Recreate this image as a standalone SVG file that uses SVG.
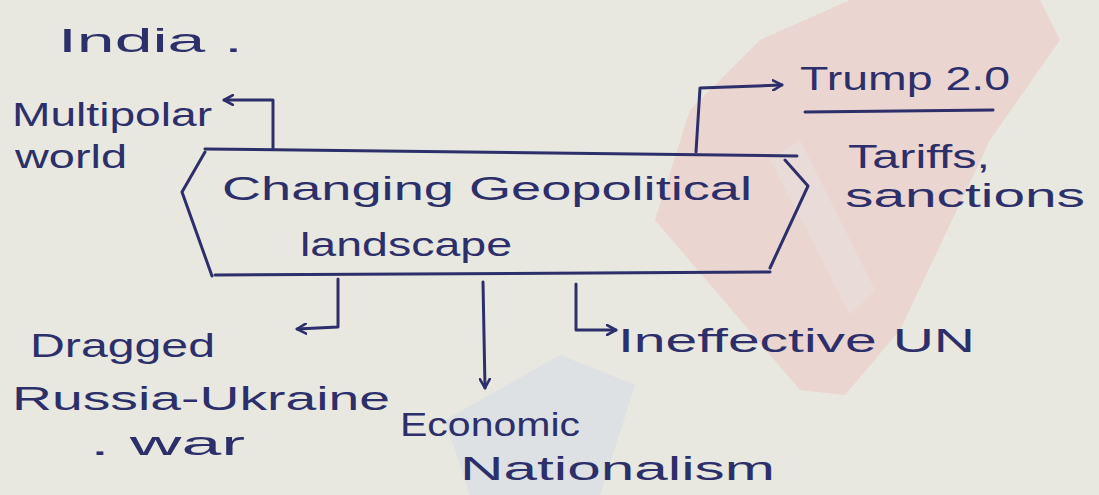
<svg xmlns="http://www.w3.org/2000/svg" width="1099" height="495" viewBox="0 0 1099 495">
  <defs>
    <style>
      .ink { fill: none; stroke: #2c2f6a; stroke-width: 3; stroke-linecap: round; stroke-linejoin: round; }
      .t { fill: #2c2f6a; font-family: "Liberation Sans", "DejaVu Sans", sans-serif; font-size: 34px; }
    </style>
    <marker id="ah" viewBox="0 0 12 12" refX="10" refY="6" markerWidth="12" markerHeight="12" markerUnits="userSpaceOnUse" orient="auto">
      <path d="M1,1 L10,6 L1,11" fill="none" stroke="#2c2f6a" stroke-width="2.6" stroke-linecap="round" stroke-linejoin="round"/>
    </marker>
  </defs>

  <!-- paper and watermark -->
  <rect x="0" y="0" width="1099" height="495" fill="#e8e8e1"/>
  <g id="watermark">
    <path d="M690,110 L760,40 L850,0 L1040,0 L1060,40 L990,140 L900,330 L845,395 L800,390 L655,220 Z" fill="#ebcfcd" opacity="0.8"/>
    <path d="M770,160 L800,140 L875,290 L850,315 Z" fill="#e9dcda" opacity="0.8"/>
    <path d="M445,420 L560,355 L635,385 L600,495 L470,495 Z" fill="#d8dee6" opacity="0.7"/>
  </g>

  <g id="connectors">
    <path class="ink" d="M273,148 L273,100 L224,100" marker-end="url(#ah)"/>
    <path class="ink" d="M696,152 L700,88 L782,85" marker-end="url(#ah)"/>
    <path class="ink" d="M338,279 L338,327 L297,329" marker-end="url(#ah)"/>
    <path class="ink" d="M483,282 L485,388" marker-end="url(#ah)"/>
    <path class="ink" d="M576,284 L576,330 L616,330" marker-end="url(#ah)"/>
  </g>

  <g id="node-center">
    <path class="ink" d="M205,149 L797,156"/>
    <path class="ink" d="M205,152 L182,192 L212,276"/>
    <path class="ink" d="M215,275 L770,272"/>
    <path class="ink" d="M785,160 L808,186 L770,268"/>
    <text class="t" x="222" y="200" font-size="40" textLength="530" lengthAdjust="spacingAndGlyphs">Changing Geopolitical</text>
    <text class="t" x="300" y="256" font-size="38" textLength="212" lengthAdjust="spacingAndGlyphs">landscape</text>
  </g>

  <g id="node-india">
    <text class="t" x="58" y="52" font-size="36" textLength="185" lengthAdjust="spacingAndGlyphs">India .</text>
  </g>

  <g id="node-multipolar">
    <text class="t" x="12" y="126" textLength="200" lengthAdjust="spacingAndGlyphs">Multipolar</text>
    <text class="t" x="15" y="168" textLength="112" lengthAdjust="spacingAndGlyphs">world</text>
  </g>

  <g id="node-trump">
    <text class="t" x="800" y="90" textLength="210" lengthAdjust="spacingAndGlyphs">Trump 2.0</text>
    <path class="ink" d="M805,112 L993,110"/>
    <text class="t" x="848" y="168" font-size="32" textLength="142" lengthAdjust="spacingAndGlyphs">Tariffs,</text>
    <text class="t" x="845" y="207" font-size="32" textLength="240" lengthAdjust="spacingAndGlyphs">sanctions</text>
  </g>

  <g id="node-dragged">
    <text class="t" x="30" y="357" textLength="185" lengthAdjust="spacingAndGlyphs">Dragged</text>
    <text class="t" x="12" y="410" textLength="378" lengthAdjust="spacingAndGlyphs">Russia-Ukraine</text>
    <text class="t" x="90" y="455" textLength="155" lengthAdjust="spacingAndGlyphs">. war</text>
  </g>

  <g id="node-economic">
    <text class="t" x="400" y="436" textLength="180" lengthAdjust="spacingAndGlyphs">Economic</text>
    <text class="t" x="460" y="480" textLength="315" lengthAdjust="spacingAndGlyphs">Nationalism</text>
  </g>

  <g id="node-un">
    <text class="t" x="618" y="352" textLength="357" lengthAdjust="spacingAndGlyphs">Ineffective UN</text>
  </g>
</svg>
